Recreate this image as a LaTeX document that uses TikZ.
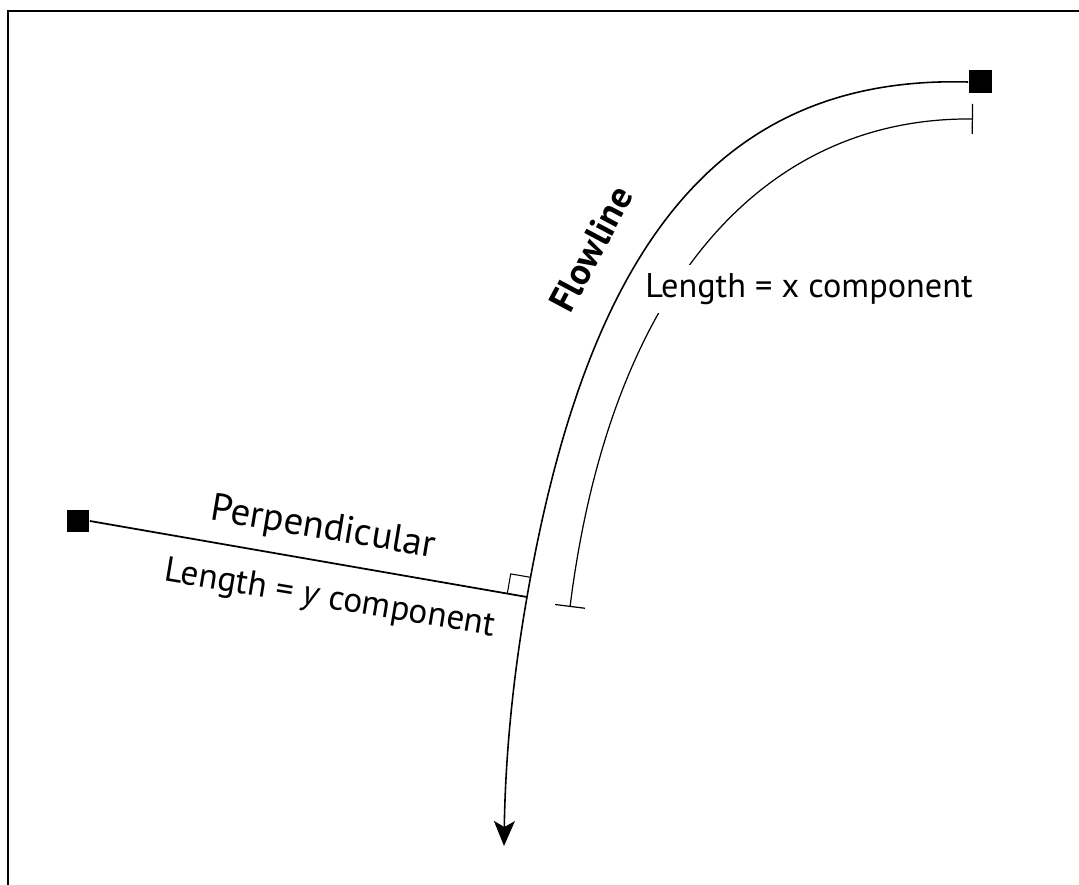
\documentclass[tikz,border=0pt]{standalone}
\usepackage{fontspec}
\setmainfont{PT Sans}
\usetikzlibrary{arrows.meta}

\begin{document}
\begin{tikzpicture}[x=0.02cm,y=-0.02cm,
  sq/.style={fill=black,minimum size=0.46cm,inner sep=0pt},
  lbl/.style={font=\fontsize{20}{24}\selectfont,inner sep=1pt}]
  \useasboundingbox (0,0) rectangle (1079,885);
  \draw[line width=1.2pt] (8,885) -- (8,11) -- (1079,11);
  \node[sq] (src) at (980,82) {};
  \node[sq] (pt) at (78,521) {};
  \coordinate (foot) at (527,597);
  \coordinate (tip) at (504,846);
  \coordinate (xa) at (973,119);
  \coordinate (xb) at (570,607);
  % flowline
  \draw[line width=0.9pt,-{Stealth[length=0.5cm,width=0.42cm,inset=0.12cm]}] (src.west) .. controls (720,75) and (588,245) .. (foot) .. controls (509,700) and (505,780) .. (tip);
  % x component
  \draw[line width=0.7pt,{Bar[width=0.6cm]}-{Bar[width=0.6cm]}] (xa) .. controls (760,117) and (610,290) .. (xb);
  \node[lbl,font=\fontsize{19.5}{24}\selectfont,fill=white,inner ysep=5pt] (xlen) at (809,289) {Length = x component};
  % perpendicular
  \draw[line width=1pt] (pt.east) -- (foot);
  \draw[line width=0.6pt] (foot) ++(-19.7,-3.4) -- ++(3.4,-19.7) -- ++(19.7,3.4);
  \node[lbl,font=\fontsize{22}{26}\selectfont,rotate=-9.5] (perp) at (323,529) {Perpendicular};
  \node[lbl,rotate=-9.5] (ylen) at (330,600) {Length = \textit{y} component};
  \node[lbl,font=\fontsize{21}{25}\selectfont\bfseries,rotate=62] (flow) at (591,249) {Flowline};
\end{tikzpicture}
\end{document}
